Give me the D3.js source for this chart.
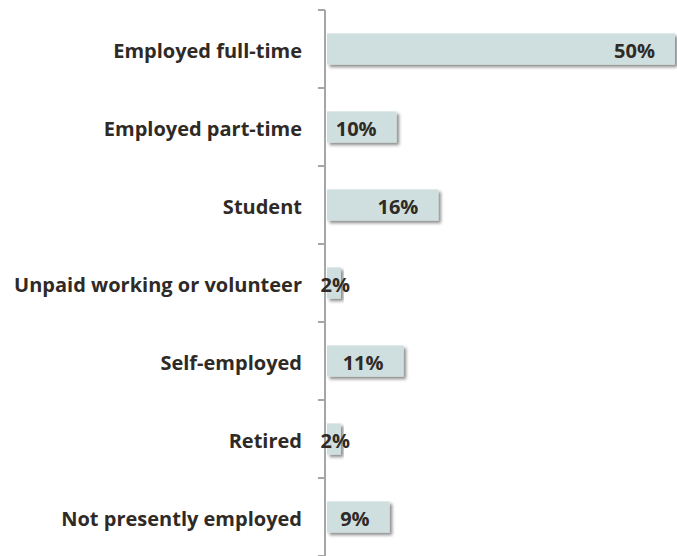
<!DOCTYPE html>
<html><head><meta charset="utf-8">
<script src="https://cdn.jsdelivr.net/npm/d3@7"></script>
<style>body{margin:0;background:#fff}svg{display:block}</style>
</head><body>
<script>
const categories = ["Employed full-time","Employed part-time","Student","Unpaid working or volunteer","Self-employed","Retired","Not presently employed"];
const values = [50,10,16,2,11,2,9];
const labels = ["50%","10%","16%","2%","11%","2%","9%"];

const W = 677, H = 556;
const svg = d3.select("body").append("svg").attr("width", W).attr("height", H);
const defs = svg.append("defs");
const f = defs.append("filter").attr("id","sh").attr("x","-20%").attr("y","-30%").attr("width","140%").attr("height","170%");
f.append("feDropShadow").attr("dx",2.5).attr("dy",2.5).attr("stdDeviation",1.6).attr("flood-color","#000").attr("flood-opacity",0.45);

const x = d3.scaleLinear().domain([0,50]).range([327,675]);
const y = d3.scaleBand().domain(categories).range([10,556]).paddingInner(0.6).paddingOuter(0.3);
const yb = d3.scaleBand().domain(categories).range([10,556]);

svg.selectAll("rect.bar").data(categories).enter().append("rect")
  .attr("class","bar")
  .attr("x", x(0))
  .attr("y", d => y(d))
  .attr("width", (d,i) => x(values[i]) - x(0))
  .attr("height", y.bandwidth())
  .attr("fill","#cfdfe0")
  .attr("filter","url(#sh)");

const axisX = 325;
const g = svg.append("g");
g.append("line").attr("x1",axisX).attr("x2",axisX).attr("y1",10).attr("y2",556).attr("stroke","#a6a6a6").attr("stroke-width",2);
const tickYs = categories.map(c => yb(c)).concat([556]);
g.selectAll("line.tick").data(tickYs).enter().append("line")
  .attr("x1",axisX-7).attr("x2",axisX).attr("y1",d=>d).attr("y2",d=>d)
  .attr("stroke","#a6a6a6").attr("stroke-width",2);

const font = "'Open Sans', sans-serif";
svg.selectAll("text.cat").data(categories).enter().append("text")
  .attr("x", 302)
  .attr("y", d => yb(d) + yb.bandwidth()/2 + 2)
  .attr("dy","0.35em")
  .attr("text-anchor","end")
  .attr("font-family",font).attr("font-weight","bold").attr("font-size",20)
  .attr("fill","#2f2a25")
  .text(d => d);

svg.selectAll("text.val").data(categories).enter().append("text")
  .attr("x", (d,i) => Math.max(x(values[i]) - 20, 350))
  .attr("y", d => yb(d) + yb.bandwidth()/2 + 2)
  .attr("dy","0.35em")
  .attr("text-anchor","end")
  .attr("font-family",font).attr("font-weight","bold").attr("font-size",20)
  .attr("fill","#2f2a25")
  .text((d,i) => labels[i]);
</script>
</body></html>
